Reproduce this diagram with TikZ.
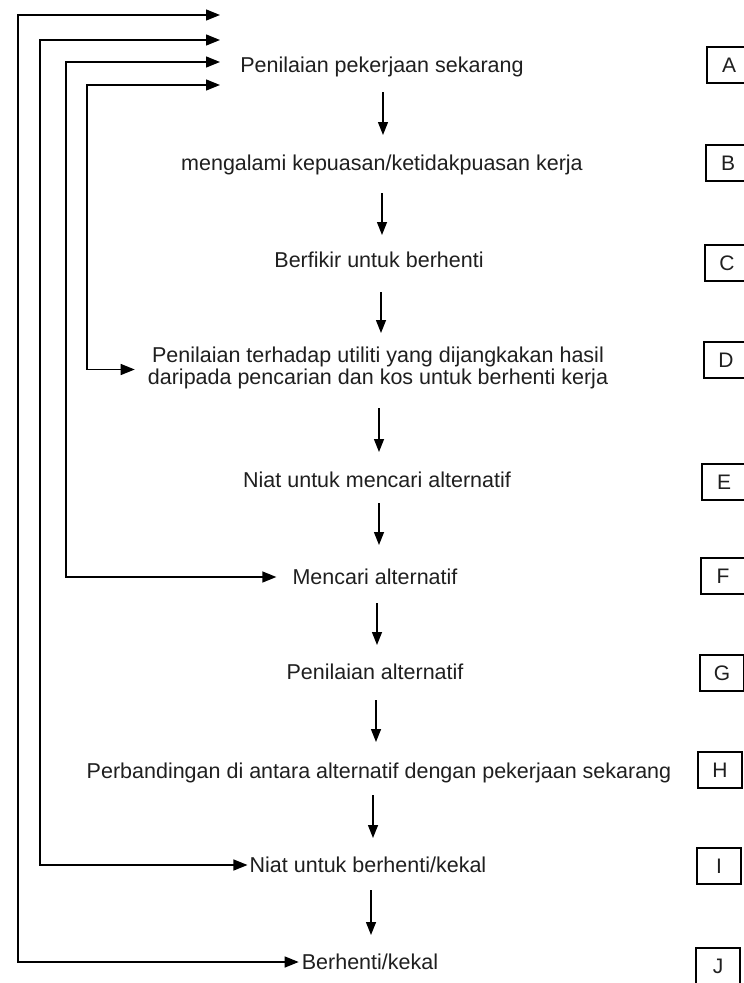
\documentclass[tikz,border=0pt]{standalone}
\usepackage{fontspec}
\setmainfont{Liberation Sans}
\usetikzlibrary{arrows.meta,calc}
\begin{document}
\begin{tikzpicture}[x=1pt,y=-1pt,
  txt/.style={font=\fontsize{21.5}{22}\selectfont, inner sep=0pt, text=black!88},
  lbl/.style={draw, line width=1.3pt, minimum width=44pt, minimum height=36pt, inner sep=0pt, text=black!88, font=\fontsize{21}{22}\selectfont},
  varr/.style={line width=1.4pt, -{Triangle[length=13pt,width=10pt]}},
  fb/.style={line width=1.3pt, {Triangle[length=14pt,width=11pt]}-{Triangle[length=14pt,width=11pt]}}
]
\useasboundingbox (0,0) rectangle (744,983);
\fill[white] (0,0) rectangle (744,983);

% main column
\node[txt, anchor=base] (A) at (382,72) {Penilaian pekerjaan sekarang};
\node[txt, anchor=base] (B) at (382,170) {mengalami kepuasan/ketidakpuasan kerja};
\node[txt, anchor=base] (C) at (379,267) {Berfikir untuk berhenti};
\node[txt, align=center] (D) at (378,368) {Penilaian terhadap utiliti yang dijangkakan hasil\\daripada pencarian dan kos untuk berhenti kerja};
\node[txt, anchor=base] (E) at (377,487) {Niat untuk mencari alternatif};
\node[txt, anchor=base] (F) at (375,584) {Mencari alternatif};
\node[txt, anchor=base] (G) at (375,679) {Penilaian alternatif};
\node[txt, anchor=base] (H) at (379,778) {Perbandingan di antara alternatif dengan pekerjaan sekarang};
\node[txt, anchor=base] (I) at (368,872) {Niat untuk berhenti/kekal};
\node[txt, anchor=base] (J) at (370,969) {Berhenti/kekal};

% label boxes
\node[lbl] (bA) at (729,65) {A};
\node[lbl] (bB) at (728,163) {B};
\node[lbl] (bC) at (727,263) {C};
\node[lbl] (bD) at (726,360) {D};
\node[lbl] (bE) at (724,482) {E};
\node[lbl] (bF) at (723,576) {F};
\node[lbl] (bG) at (722,673) {G};
\node[lbl] (bH) at (720,770) {H};
\node[lbl] (bI) at (719,866) {I};
\node[lbl] (bJ) at (718,966) {J};

% downward arrows
\draw[varr] ([xshift=1pt,yshift=-20pt]A.base) -- ([xshift=1pt,yshift=35pt]B.base);
\draw[varr] ([yshift=-23pt]B.base) -- ([xshift=3pt,yshift=32pt]C.base);
\draw[varr] ([xshift=2pt,yshift=-25pt]C.base) -- ([xshift=3pt,yshift=35pt]D.center);
\draw[varr] ([xshift=1pt,yshift=-40pt]D.center) -- ([xshift=2pt,yshift=35pt]E.base);
\draw[varr] ([xshift=2pt,yshift=-16pt]E.base) -- ([xshift=4pt,yshift=39pt]F.base);
\draw[varr] ([xshift=2pt,yshift=-19pt]F.base) -- ([xshift=2pt,yshift=34pt]G.base);
\draw[varr] ([xshift=1pt,yshift=-21pt]G.base) -- ([xshift=-3pt,yshift=36pt]H.base);
\draw[varr] ([xshift=-6pt,yshift=-17pt]H.base) -- ([xshift=5pt,yshift=34pt]I.base);
\draw[varr] ([xshift=3pt,yshift=-18pt]I.base) -- ([xshift=1pt,yshift=34pt]J.base);

% feedback loops
\coordinate (fb1) at (220,15);
\coordinate (fb2) at (220,40);
\coordinate (fb3) at (220,62);
\coordinate (fb4) at (220,85);
\draw[fb] (fb1) -- (18,15) |- ([xshift=-3pt,yshift=7pt]J.base west);
\draw[fb] (fb2) -- (40,40) |- ([xshift=-2pt,yshift=7pt]I.base west);
\draw[fb] (fb3) -- (66,62) |- ([xshift=-16pt,yshift=7pt]F.base west);
\draw[fb] (fb4) -- (87,85) |- ([xshift=-13pt,yshift=-1.5pt]D.west);
\end{tikzpicture}
\end{document}
